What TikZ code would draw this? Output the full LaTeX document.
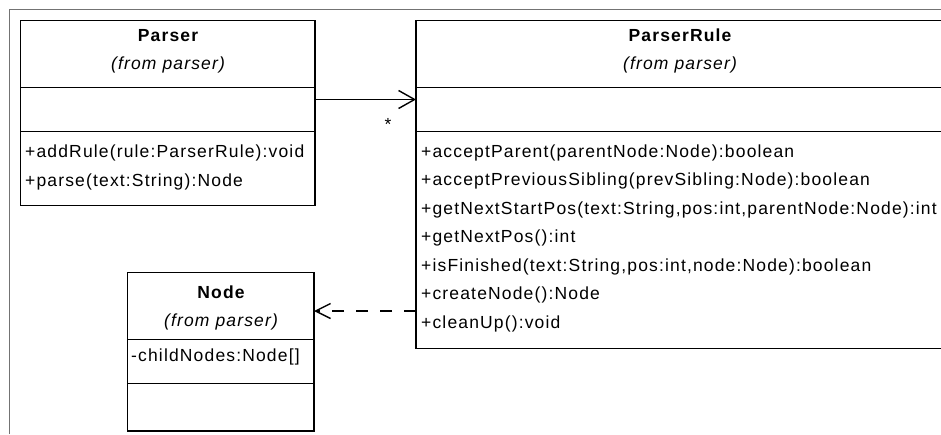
\documentclass[tikz,border=0pt]{standalone}
\usepackage{fontspec}
\setmainfont{Liberation Sans}[LetterSpace=6.6]
\usetikzlibrary{arrows.meta}
\begin{document}
\begin{tikzpicture}[x=1pt,y=-1pt,
  umlbox/.style={draw=black,line width=1.9pt},
  sepline/.style={draw=black,line width=1.9pt},
  frameline/.style={draw=black!55,line width=1.5pt},
  title/.style={anchor=base,inner sep=0pt,font=\fontsize{17.5}{20}\selectfont\bfseries},
  origin/.style={anchor=base,inner sep=0pt,font=\fontsize{17.5}{20}\selectfont\itshape},
  member/.style={anchor=base west,inner sep=0pt,font=\fontsize{17.5}{20}\selectfont},
  assoc/.style={line width=1.4pt,-{Straight Barb[length=16pt,width=18pt,line width=1.4pt]}},
  depend/.style={line width=1.4pt,dash pattern=on 12pt off 12pt,-{Straight Barb[length=15pt,width=15pt,line width=1.4pt]}}
]
\useasboundingbox (0,0) rectangle (941,434);
\clip (0,0) rectangle (941,434);

% outer frame
\draw[frameline] (9.5,434) -- (9.5,9.5) -- (941,9.5);

% Parser class
\draw[umlbox] (20.5,20.5) rectangle (315,205.5);
\draw[sepline] (20.5,87.5) -- (315,87.5);
\draw[sepline] (20.5,131.5) -- (315,131.5);
\node[title] (parserT) at (168,41.5) {Parser};
\node[origin] (parserF) at (168,69.5) {(from parser)};
\node[member] (pm1) at (25,157) {+addRule(rule:ParserRule):void};
\node[member] (pm2) at (25,186) {+parse(text:String):Node};
\coordinate (parserR) at (315,99.5);

% ParserRule class
\draw[umlbox] (416,20.5) rectangle (945,348.5);
\draw[sepline] (416,87.5) -- (945,87.5);
\draw[sepline] (416,131.5) -- (945,131.5);
\node[title] (ruleT) at (680,41.5) {ParserRule};
\node[origin] (ruleF) at (680,69.5) {(from parser)};
\node[member] (rm1) at (421,157) {+acceptParent(parentNode:Node):boolean};
\node[member] (rm2) at (421,185.5) {+acceptPreviousSibling(prevSibling:Node):boolean};
\node[member] (rm3) at (421,214) {+getNextStartPos(text:String,pos:int,parentNode:Node):int};
\node[member] (rm4) at (421,242.5) {+getNextPos():int};
\node[member] (rm5) at (421,271) {+isFinished(text:String,pos:int,node:Node):boolean};
\node[member] (rm6) at (421,299.5) {+createNode():Node};
\node[member] (rm7) at (421,328) {+cleanUp():void};
\coordinate (ruleL) at (416,99.5);
\coordinate (ruleD) at (416,311);

% Node class
\draw[umlbox] (127.5,272.5) rectangle (314,431);
\draw[sepline] (127.5,339.5) -- (314,339.5);
\draw[sepline] (127.5,383.5) -- (314,383.5);
\node[title] (nodeT) at (221,298) {Node};
\node[origin] (nodeF) at (221,326) {(from parser)};
\node[member] (nm1) at (131,361) {-childNodes:Node[]};
\coordinate (nodeR) at (314,311);

% relations
\draw[assoc] (parserR) -- (ruleL);
\node[inner sep=0pt,font=\fontsize{17.5}{20}\selectfont] (mult) at (388,124) {*};
\draw[depend] (ruleD) -- (nodeR);
\end{tikzpicture}
\end{document}
